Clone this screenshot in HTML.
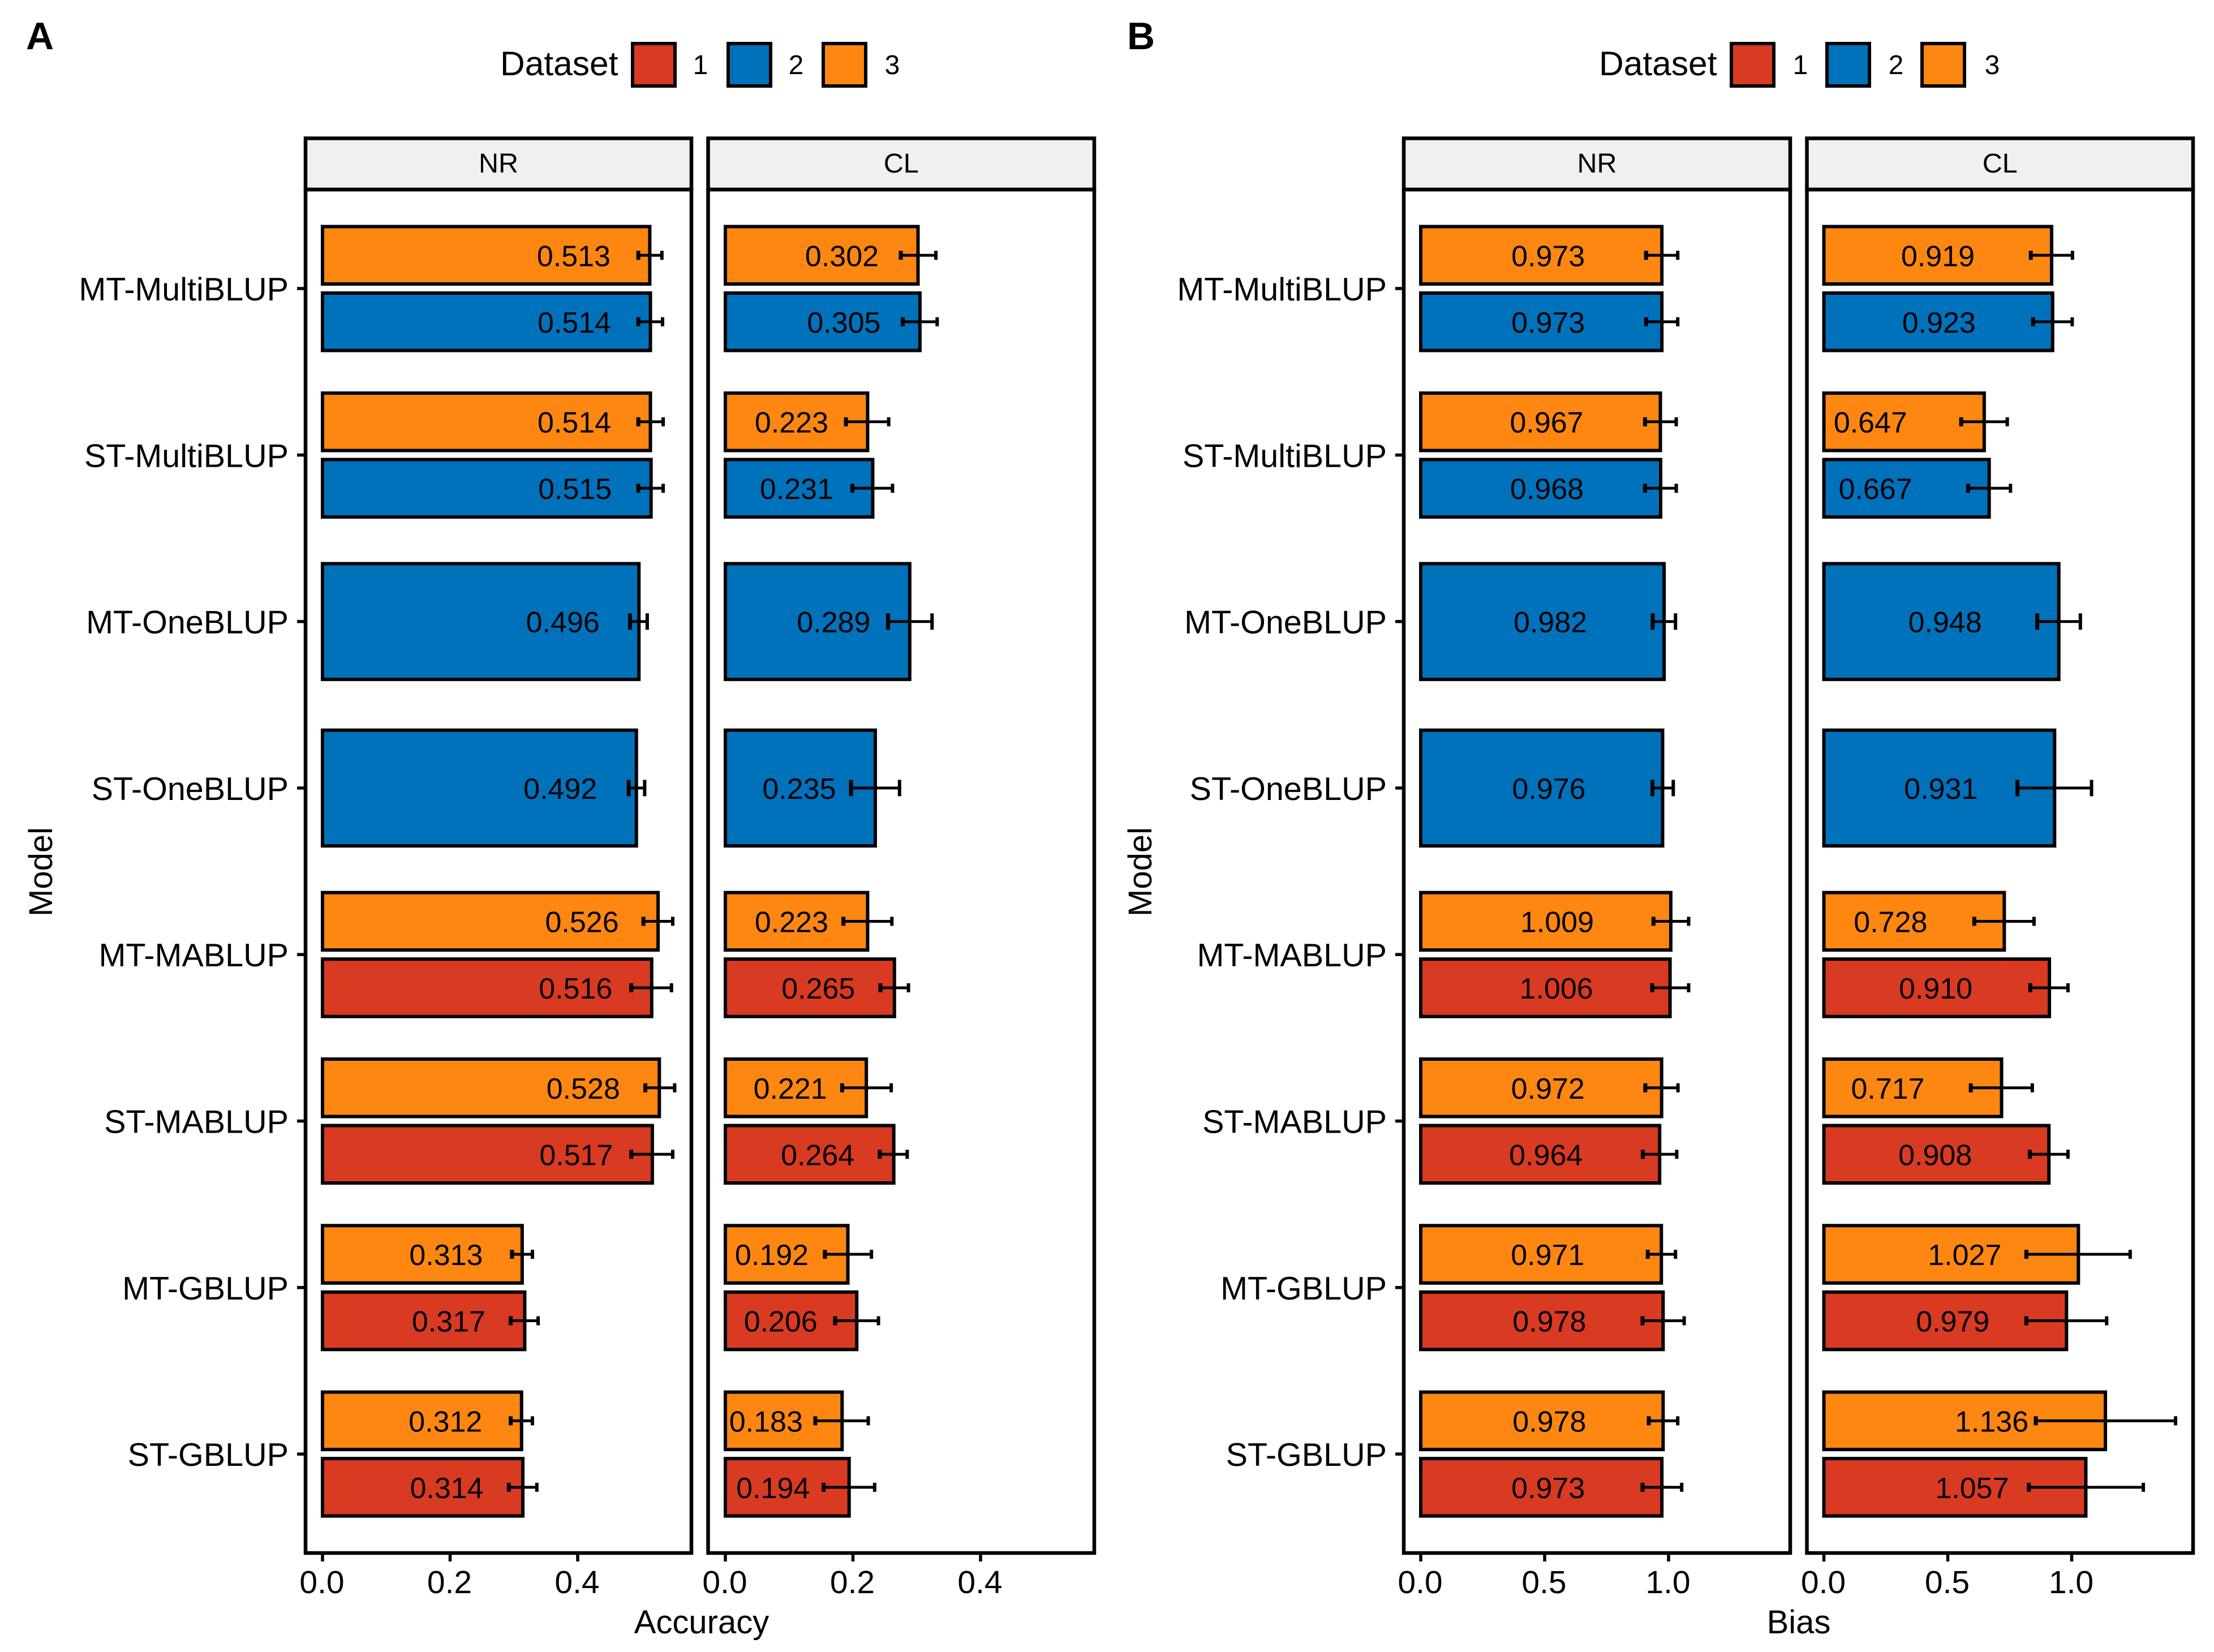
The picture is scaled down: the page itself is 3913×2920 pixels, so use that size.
<!DOCTYPE html>
<html lang="en">
<head>
<meta charset="utf-8">
<title>Accuracy and bias of models by dataset</title>
<style>
html,body{margin:0;padding:0;background:#fff;}
svg{display:block;}
text{font-family:"Liberation Sans",Arial,sans-serif;fill:#000;}
</style>
</head>
<body>
<svg id="figure" xmlns="http://www.w3.org/2000/svg" width="3913" height="2920" viewBox="0 0 3913 2920">
  <rect x="0" y="0" width="3913" height="2920" fill="#ffffff"/>

  <text x="46" y="87" font-size="68" font-weight="bold">A</text>
  <text x="1992" y="87" font-size="68" font-weight="bold">B</text>

  <g>
    <text x="884" y="133" font-size="60.5">Dataset</text>
    <rect x="1118" y="77" width="75" height="75" fill="#D93A22" stroke="#000" stroke-width="6"/>
    <text x="1238" y="131" font-size="48" text-anchor="middle">1</text>
    <rect x="1287" y="77" width="75" height="75" fill="#0072BB" stroke="#000" stroke-width="6"/>
    <text x="1407" y="131" font-size="48" text-anchor="middle">2</text>
    <rect x="1455" y="77" width="75" height="75" fill="#FD8710" stroke="#000" stroke-width="6"/>
    <text x="1577" y="131" font-size="48" text-anchor="middle">3</text>
  </g>
  <g>
    <text x="2826" y="133" font-size="60.5">Dataset</text>
    <rect x="3060" y="77" width="75" height="75" fill="#D93A22" stroke="#000" stroke-width="6"/>
    <text x="3182" y="131" font-size="48" text-anchor="middle">1</text>
    <rect x="3229" y="77" width="75" height="75" fill="#0072BB" stroke="#000" stroke-width="6"/>
    <text x="3351" y="131" font-size="48" text-anchor="middle">2</text>
    <rect x="3397" y="77" width="75" height="75" fill="#FD8710" stroke="#000" stroke-width="6"/>
    <text x="3521" y="131" font-size="48" text-anchor="middle">3</text>
  </g>

  <text x="1240" y="2887" font-size="58" text-anchor="middle">Accuracy</text>
  <text x="3179" y="2887" font-size="58" text-anchor="middle">Bias</text>
  <text transform="translate(92,1541) rotate(-90)" font-size="58" text-anchor="middle">Model</text>
  <text transform="translate(2035,1541) rotate(-90)" font-size="58" text-anchor="middle">Model</text>

  <g id="panels"></g>
</svg>

<script>
// Model categories, top to bottom
const models = ["MT-MultiBLUP","ST-MultiBLUP","MT-OneBLUP","ST-OneBLUP","MT-MABLUP","ST-MABLUP","MT-GBLUP","ST-GBLUP"];
// Datasets shown for each model, top bar first
const modelDatasets = [[3,2],[3,2],[2],[2],[3,1],[3,1],[3,1],[3,1]];

// One entry per bar, in reading order
const accuracyNR     = [0.513,0.514,0.514,0.515,0.496,0.492,0.526,0.516,0.528,0.517,0.313,0.317,0.312,0.314];
const accuracyNRLow  = [0.495,0.495,0.495,0.495,0.482,0.480,0.503,0.484,0.506,0.484,0.297,0.295,0.295,0.292];
const accuracyNRHigh = [0.532,0.533,0.534,0.534,0.509,0.505,0.549,0.547,0.552,0.549,0.329,0.338,0.329,0.336];

const accuracyCL     = [0.302,0.305,0.223,0.231,0.289,0.235,0.223,0.265,0.221,0.264,0.192,0.206,0.183,0.194];
const accuracyCLLow  = [0.275,0.278,0.189,0.199,0.255,0.197,0.185,0.243,0.183,0.242,0.156,0.172,0.141,0.154];
const accuracyCLHigh = [0.330,0.332,0.256,0.262,0.324,0.273,0.261,0.287,0.260,0.285,0.229,0.240,0.224,0.234];

const biasNR     = [0.973,0.973,0.967,0.968,0.982,0.976,1.009,1.006,0.972,0.964,0.971,0.978,0.978,0.973];
const biasNRLow  = [0.909,0.909,0.905,0.905,0.936,0.935,0.939,0.934,0.906,0.896,0.916,0.895,0.920,0.895];
const biasNRHigh = [1.037,1.037,1.031,1.031,1.028,1.019,1.081,1.081,1.038,1.033,1.028,1.063,1.037,1.053];

const biasCL     = [0.919,0.923,0.647,0.667,0.948,0.931,0.728,0.910,0.717,0.908,1.027,0.979,1.136,1.057];
const biasCLLow  = [0.835,0.844,0.554,0.582,0.861,0.781,0.607,0.833,0.593,0.831,0.817,0.817,0.855,0.827];
const biasCLHigh = [1.003,1.002,0.740,0.753,1.035,1.080,0.848,0.985,0.841,0.985,1.236,1.141,1.419,1.289];

// Axis tick labels
const accuracyTicks = [0.0,0.2,0.4];
const biasTicks = [0.0,0.5,1.0];

const datasetColors = {1:"#D93A22",2:"#0072BB",3:"#FD8710"};
const SVGNS = "http://www.w3.org/2000/svg";

// Layout constants
const stripTop = 244.5, stripBottom = 335, panelBottom = 2745;
const firstTickY = 510, bandStep = 294.3;

function yScale(modelIndex){ return firstTickY + bandStep * modelIndex; }

const panelDefs = [
  {id:"a-nr", strip:"NR", left:540,    right:1222, zero:570,    unit:1127.5, labelShift:134.5, ticks:accuracyTicks, digits:1, yAxis:true,
   values:accuracyNR, low:accuracyNRLow, high:accuracyNRHigh},
  {id:"a-cl", strip:"CL", left:1251.5, right:1934, zero:1282,   unit:1127.5, labelShift:134.5, ticks:accuracyTicks, digits:1, yAxis:false,
   values:accuracyCL, low:accuracyCLLow, high:accuracyCLHigh},
  {id:"b-nr", strip:"NR", left:2481,   right:3164, zero:2511,   unit:438,    labelShift:201, ticks:biasTicks, digits:1, yAxis:true,
   values:biasNR, low:biasNRLow, high:biasNRHigh},
  {id:"b-cl", strip:"CL", left:3193.5, right:3876, zero:3223.5, unit:438,    labelShift:201, ticks:biasTicks, digits:1, yAxis:false,
   values:biasCL, low:biasCLLow, high:biasCLHigh}
];

function mk(tag, attrs, parent){
  const el = document.createElementNS(SVGNS, tag);
  for (const k in attrs) el.setAttribute(k, attrs[k]);
  parent.appendChild(el);
  return el;
}

const root = document.getElementById("panels");

panelDefs.forEach(function(p){
  const g = mk("g", {}, root);
  
  

  function xScale(v){ return p.zero + p.unit * v; }

  const strip = mk("rect", {x:p.left, y:stripTop, width:p.right-p.left, height:stripBottom-stripTop, fill:"#f0f0f0", stroke:"#000", "stroke-width":6.5}, g);
  
  

  const stripText = mk("text", {x:(p.left+p.right)/2, y:305, "font-size":48.5, "text-anchor":"middle"}, g);
  stripText.textContent = p.strip;
  
  

  let barIndex = 0;
  models.forEach(function(model, m){
    const center = yScale(m);
    const sets = modelDatasets[m];
    const barH = sets.length === 2 ? 101.5 : 204.5;
    const capH = sets.length === 2 ? 16 : 29;
    sets.forEach(function(ds, s){
      const cy = sets.length === 2 ? center + (s === 0 ? -58.75 : 58.75) : center;
      const v = p.values[barIndex], lo = p.low[barIndex], hi = p.high[barIndex];

      const bar = mk("rect", {x:xScale(0), y:cy-barH/2, width:xScale(v)-xScale(0), height:barH, fill:datasetColors[ds], stroke:"#000", "stroke-width":6}, g);
      
      

      const label = mk("text", {x:xScale(v)-p.labelShift, y:cy+19, "font-size":52, "text-anchor":"middle"}, g);
      label.textContent = v.toFixed(3);
      
      

      const err = mk("g", {stroke:"#000", fill:"none"}, g);
      
      
      mk("line", {x1:xScale(lo), x2:xScale(hi), y1:cy, y2:cy, "stroke-width":5}, err);
      mk("line", {x1:xScale(lo), x2:xScale(lo), y1:cy-capH/2, y2:cy+capH/2, "stroke-width":7}, err);
      mk("line", {x1:xScale(hi), x2:xScale(hi), y1:cy-capH/2, y2:cy+capH/2, "stroke-width":6}, err);

      barIndex++;
    });

    if (p.yAxis){
      const tick = mk("line", {x1:p.left-15, x2:p.left, y1:center, y2:center, stroke:"#000", "stroke-width":5.5}, g);
      
      
      const tickLabel = mk("text", {x:p.left-30, y:center+21, "font-size":57.5, "text-anchor":"end"}, g);
      tickLabel.textContent = model;
      
      
    }
  });

  p.ticks.forEach(function(t){
    const tick = mk("line", {x1:xScale(t), x2:xScale(t), y1:panelBottom, y2:panelBottom+15, stroke:"#000", "stroke-width":5.5}, g);
    
    
    const tickLabel = mk("text", {x:xScale(t)-1, y:2816, "font-size":57, "text-anchor":"middle"}, g);
    tickLabel.textContent = t.toFixed(p.digits);
    
    
  });

  const frame = mk("rect", {x:p.left, y:stripBottom, width:p.right-p.left, height:panelBottom-stripBottom, fill:"none", stroke:"#000", "stroke-width":6.5}, g);
  
  
});
</script>
</body>
</html>
